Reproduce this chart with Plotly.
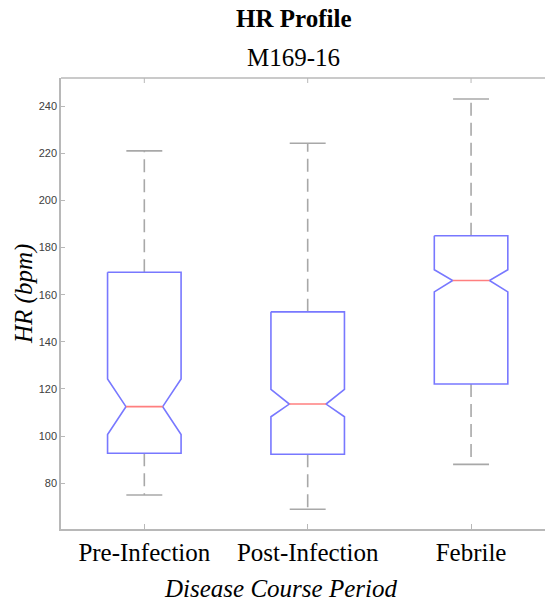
import plotly.graph_objects as go

# Heart-rate summary statistics per disease course period (bpm)
categories = ["Pre-Infection", "Post-Infection", "Febrile"]
upper_whisker = [221.0, 224.2, 243.0]
q3 = [169.5, 152.7, 185.0]
median = [112.5, 113.6, 166.0]
q1 = [92.7, 92.3, 122.1]
lower_whisker = [75.0, 69.0, 88.0]
notch_hi = [124.2, 119.8, 170.6]
notch_lo = [100.7, 108.2, 161.2]
y_ticks = [80, 100, 120, 140, 160, 180, 200, 220, 240]

BOX_BLUE = "#7878ff"
MED_RED = "#ff7f7f"
WHISK_GRAY = "#a8a8a8"
AXIS_GRAY = "#b8b8b8"
SERIF = "Liberation Serif, Times New Roman, serif"

W, H = 545, 605
ML, MR, MT, MB = 61, 0, 78, 76
PW, PH = W - ML - MR, H - MT - MB


def px_to_paper(px, py):
    """Convert a pixel position on the page to plot-area paper coordinates."""
    return (px - ML) / PW, (H - MB - py) / PH


half_w = 0.225   # half width of each box
cap_w = 0.11     # half width of whisker caps

fig = go.Figure()

for i, name in enumerate(categories):
    x = i + 1
    # whiskers (dashed) and caps
    fig.add_trace(go.Scatter(
        x=[x, x], y=[q3[i], upper_whisker[i]], mode="lines",
        line=dict(color=WHISK_GRAY, width=1.6, dash="13px,7px"),
        hoverinfo="skip", showlegend=False))
    fig.add_trace(go.Scatter(
        x=[x, x], y=[q1[i], lower_whisker[i]], mode="lines",
        line=dict(color=WHISK_GRAY, width=1.6, dash="13px,7px"),
        hoverinfo="skip", showlegend=False))
    for yv in (upper_whisker[i], lower_whisker[i]):
        fig.add_trace(go.Scatter(
            x=[x - cap_w, x + cap_w], y=[yv, yv], mode="lines",
            line=dict(color=WHISK_GRAY, width=1.6),
            hoverinfo="skip", showlegend=False))
    # notched box outline
    bx = [x - half_w, x + half_w, x + half_w, x + half_w / 2, x + half_w,
          x + half_w, x - half_w, x - half_w, x - half_w / 2, x - half_w,
          x - half_w]
    by = [q3[i], q3[i], notch_hi[i], median[i], notch_lo[i],
          q1[i], q1[i], notch_lo[i], median[i], notch_hi[i], q3[i]]
    fig.add_trace(go.Scatter(
        x=bx, y=by, mode="lines",
        line=dict(color=BOX_BLUE, width=1.6),
        hoverinfo="skip", showlegend=False, name=name))
    # median
    fig.add_trace(go.Scatter(
        x=[x - half_w / 2, x + half_w / 2], y=[median[i], median[i]],
        mode="lines", line=dict(color=MED_RED, width=1.6),
        hoverinfo="skip", showlegend=False))

# top border of the axes box with its inward ticks
shapes = [dict(type="line", xref="paper", yref="paper", x0=0, x1=1,
               y0=1, y1=1, line=dict(color=AXIS_GRAY, width=1.5))]
for k in range(len(categories)):
    shapes.append(dict(type="line", xref="x", yref="paper",
                       x0=k + 1, x1=k + 1, y0=1, y1=1 - 5 / PH,
                       line=dict(color=AXIS_GRAY, width=1)))


def label(text, px, py, angle=0):
    ax, ay = px_to_paper(px, py)
    return dict(text=text, x=ax, y=ay, xref="paper", yref="paper",
                showarrow=False, textangle=angle,
                xanchor="center", yanchor="middle",
                font=dict(family=SERIF, size=25, color="black"))


x_end = 1 + (W - MR - 144) / 163.5

fig.update_layout(
    width=W, height=H,
    margin=dict(l=ML, r=MR, t=MT, b=MB),
    plot_bgcolor="white", paper_bgcolor="white",
    shapes=shapes,
    xaxis=dict(
        range=[0.49, x_end], tickvals=[1, 2, 3], ticktext=categories,
        showline=True, linecolor=AXIS_GRAY, linewidth=1.5, mirror=False,
        ticks="inside", ticklen=5, tickcolor=AXIS_GRAY, tickwidth=1,
        showgrid=False, zeroline=False,
        tickfont=dict(family=SERIF, size=25, color="black"),
    ),
    yaxis=dict(
        range=[60.6, 251.9], tickvals=y_ticks,
        showline=True, linecolor=AXIS_GRAY, linewidth=1.5, mirror=False,
        ticks="inside", ticklen=4, tickcolor=AXIS_GRAY, tickwidth=1,
        showgrid=False, zeroline=False,
        tickfont=dict(family="Liberation Sans, Arial, sans-serif", size=11,
                      color="#404040"),
    ),
    annotations=[
        label("<b>HR Profile</b>", 293, 19),
        label("M169-16", 293, 58),
        label("<i>Disease Course Period</i>", 280, 588),
        label("<i>HR (bpm)</i>", 24, 294, angle=-90),
    ],
)

# keep the page itself from scrolling so no scrollbar is painted
fig.write_html(
    "out.html",
    post_script=("document.documentElement.style.overflow='hidden';"
                 "document.body.style.overflow='hidden';"
                 "document.body.style.margin='0';"),
)
